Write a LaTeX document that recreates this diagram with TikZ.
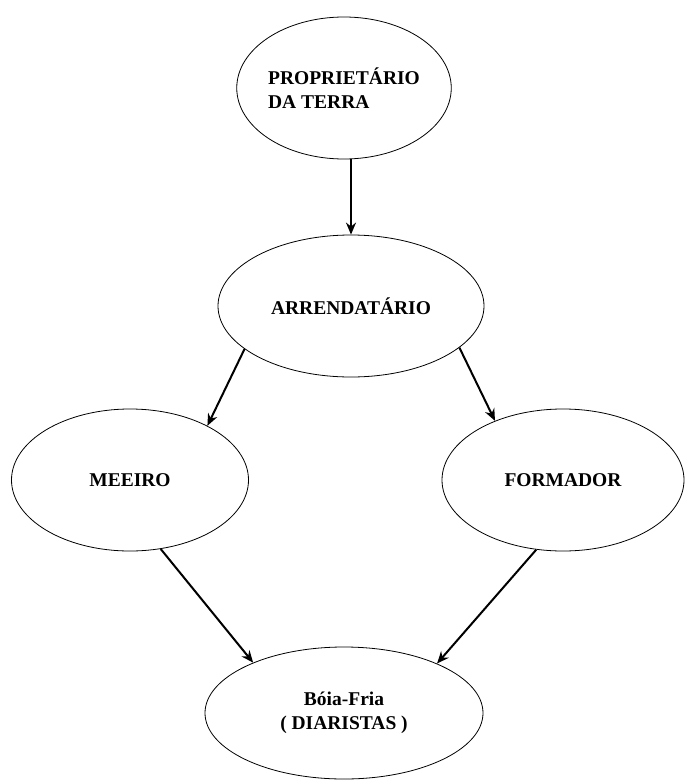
\documentclass[tikz,border=0pt]{standalone}
\usepackage{fontspec}
\setmainfont{Liberation Serif}
\usetikzlibrary{arrows.meta,shapes.geometric}

\begin{document}
\begin{tikzpicture}[x=1pt,y=1pt,
  oval/.style={ellipse,draw=black,line width=0.8pt,inner sep=0pt,align=center,
    font=\bfseries\fontsize{19.5}{24}\selectfont},
  link/.style={draw=black,line width=2pt,-{Stealth[length=12pt,width=10pt]}}]
\useasboundingbox (0,0) rectangle (687,-784);
% the five roles
\node[oval,align=left,minimum width=200pt,minimum height=142pt] (prop) at (344,-88) {PROPRIETÁRIO\\DA TERRA};
\node[oval,minimum width=266pt,minimum height=142pt] (arrend) at (351,-306) {ARRENDATÁRIO};
\node[oval,minimum width=237pt,minimum height=142pt] (meeiro) at (130,-480) {MEEIRO};
\node[oval,minimum width=242pt,minimum height=142pt] (formador) at (563,-480) {FORMADOR};
\node[oval,minimum width=278pt,minimum height=132pt] (boia) at (344,-713) {Bóia-Fria\\( DIARISTAS )};
% who hands work to whom
\draw[link] (prop.south -| arrend.north) -- (arrend.north);
\foreach \a/\b in {arrend.202/meeiro.35, arrend.339/formador.139,
                   meeiro.294/boia.151, formador.249/boia.28}
  \draw[link] (\a) -- (\b);
\end{tikzpicture}
\end{document}
